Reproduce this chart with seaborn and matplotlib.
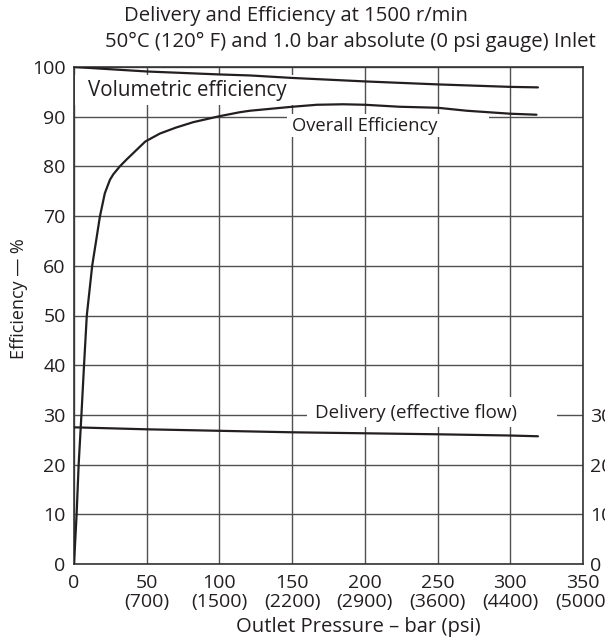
import numpy as np
import pandas as pd
import matplotlib
matplotlib.use("Agg")
import matplotlib.pyplot as plt
from matplotlib.patches import Rectangle
import seaborn as sns

# ---- data ----
vol_x = [0, 50, 100, 121, 150, 200, 250, 300, 319]
vol_y = [100, 99.1, 98.5, 98.3, 97.8, 97.1, 96.5, 96.0, 95.9]

ovr_x = [0, 1.8, 3.2, 5.1, 6.9, 8.8, 12.5, 15.3, 17.8, 21.2, 24.7, 27, 31.5, 36.2,
         49, 59, 70, 82, 100, 114, 121, 150, 167, 185, 200, 224, 250, 270, 300, 318]
ovr_y = [0, 10, 20, 30, 40, 50, 60, 65.2, 69.9, 74.6, 77.3, 78.4, 80, 81.4,
         85, 86.6, 87.8, 88.9, 90.1, 90.9, 91.2, 92.0, 92.4, 92.5, 92.4, 92.0, 91.8, 91.2, 90.6, 90.4]

del_x = [0, 50, 100, 150, 200, 250, 300, 319]
del_y = [27.5, 27.1, 26.8, 26.5, 26.3, 26.1, 25.85, 25.7]

x_ticks = [0, 50, 100, 150, 200, 250, 300, 350]
x_tick_labels = ["0", "50\n(700)", "100\n(1500)", "150\n(2200)", "200\n(2900)",
                 "250\n(3600)", "300\n(4400)", "350\n(5000)"]
y_ticks = list(range(0, 101, 10))
right_ticks = [0, 10, 20, 30]

title1 = "Delivery and Efficiency at 1500 r/min"
title2 = "50°C (120° F) and 1.0 bar absolute (0 psi gauge) Inlet"
x_label = "Outlet Pressure – bar (psi)"
y_label = "Efficiency — %"

# ---- style ----
sns.set_style("white")
plt.rcParams["font.family"] = ["Open Sans", "DejaVu Sans"]
TXT = "#231f20"
GRID = "#505050"

fig = plt.figure(figsize=(6.05, 6.43), dpi=100)
ax = fig.add_axes([74 / 605, (643 - 564) / 643, 509 / 605, 497 / 643])

df_v = pd.DataFrame({"x": vol_x, "y": vol_y})
df_o = pd.DataFrame({"x": ovr_x, "y": ovr_y})
df_d = pd.DataFrame({"x": del_x, "y": del_y})
for d in (df_v, df_o, df_d):
    sns.lineplot(data=d, x="x", y="y", ax=ax, color=TXT, lw=1.6, sort=False,
                 estimator=None, zorder=3)

ax.set_xlim(0, 350)
ax.set_ylim(0, 100)
ax.set_xticks(x_ticks)
ax.set_xticklabels(x_tick_labels, linespacing=1.1)
ax.set_yticks(y_ticks)
ax.set_xlabel("")
ax.set_ylabel("")
ax.grid(True, color=GRID, lw=1.0)
ax.set_axisbelow(True)
ax.tick_params(axis="both", length=0, labelsize=14, colors=TXT)
ax.tick_params(axis="x", pad=7)
ax.tick_params(axis="y", pad=6)
for s in ax.spines.values():
    s.set_color("#333333")
    s.set_linewidth(1.2)

# right axis
ax2 = ax.twinx()
ax2.set_ylim(0, 100)
ax2.set_yticks(right_ticks)
ax2.tick_params(axis="y", length=0, labelsize=14, colors=TXT, pad=5)
for s in ax2.spines.values():
    s.set_visible(False)

# label backgrounds (hide grid under labels)
for (x0, y0, w, h) in [(0.5, 92.4, 152.5, 6.0), (146.5, 85.9, 139, 4.7), (160.0, 27.6, 172, 6.1)]:
    ax.add_patch(Rectangle((x0, y0), w, h, facecolor="white", edgecolor="none", zorder=1.5))

ax.text(9.6, 95.2, "Volumetric efficiency", fontsize=14.8, color=TXT, va="center", ha="left", zorder=2)
ax.text(149.7, 88.2, "Overall Efficiency", fontsize=13.2, color=TXT, va="center", ha="left", zorder=2)
ax.text(165.7, 30.4, "Delivery (effective flow)", fontsize=13.5, color=TXT, va="center", ha="left", zorder=2)

fig.text(124 / 605, 1 - 16 / 643, title1, fontsize=14.6, color=TXT, ha="left", va="center")
fig.text(105 / 605, 1 - 42 / 643, title2, fontsize=14.6, color=TXT, ha="left", va="center")
fig.text(358 / 605, 1 - 627 / 643, x_label, fontsize=14.6, color=TXT, ha="center", va="center")
fig.text(19 / 605, 1 - 299 / 643, y_label, fontsize=13, color=TXT, ha="center", va="center", rotation=90)

fig.savefig("out.png", dpi=100)
